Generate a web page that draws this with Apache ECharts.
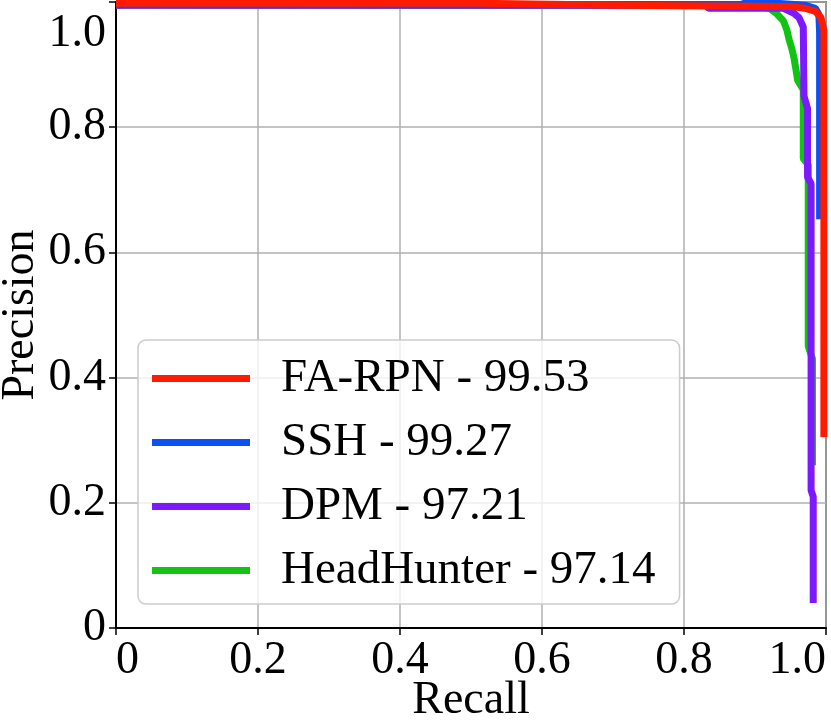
<!DOCTYPE html>
<html>
<head>
<meta charset="utf-8">
<script src="https://cdn.jsdelivr.net/npm/echarts@6/dist/echarts.min.js"></script>
<style>
  html, body { margin: 0; padding: 0; background: #fff; }
  #chart { width: 831px; height: 722px; }
</style>
</head>
<body>
<div id="chart"></div>
<script>
// PR curves (recall, precision)
const names = ['FA-RPN - 99.53', 'SSH - 99.27', 'DPM - 97.21', 'HeadHunter - 97.14']
const colors = ['#ff1a00', '#0a50f5', '#7d19ff', '#12c412']

const faRecall = [0, 0.508, 0.508, 0.715, 0.715, 0.95, 0.97, 0.985, 0.993, 0.997, 0.997]
const faPrecision = [0.998, 0.998, 0.995, 0.995, 0.9935, 0.993, 0.99, 0.985, 0.975, 0.955, 0.305]

const sshRecall = [0, 0.88, 0.885, 0.93, 0.97, 0.985, 0.99, 0.991, 0.991]
const sshPrecision = [0.996, 0.996, 0.998, 0.998, 0.995, 0.99, 0.98, 0.95, 0.653]

const dpmRecall = [0, 0.83, 0.835, 0.89, 0.94, 0.955, 0.962, 0.968, 0.969, 0.974, 0.974, 0.979, 0.979, 0.982, 0.982]
const dpmPrecision = [0.995, 0.995, 0.99, 0.99, 0.99, 0.982, 0.975, 0.96, 0.85, 0.83, 0.72, 0.71, 0.22, 0.21, 0.04]

const hhRecall = [0, 0.9, 0.92, 0.93, 0.94, 0.945, 0.948, 0.952, 0.955, 0.958, 0.96, 0.968, 0.968, 0.975, 0.975, 0.981, 0.981]
const hhPrecision = [0.995, 0.994, 0.99, 0.982, 0.97, 0.955, 0.94, 0.925, 0.91, 0.89, 0.875, 0.86, 0.75, 0.74, 0.45, 0.43, 0.26]

const curves = [
  [faRecall, faPrecision],
  [sshRecall, sshPrecision],
  [dpmRecall, dpmPrecision],
  [hhRecall, hhPrecision]
]

const font = '"Liberation Serif", "DejaVu Serif", serif'
const tickLabel = v => (v === 0 ? '0' : v.toFixed(1))

const chart = echarts.init(document.getElementById('chart'))

chart.setOption({
  animation: false,
  grid: {
    left: 116,
    right: 5,
    top: 2,
    bottom: 94,
    containLabel: false,
    outerBoundsMode: 'none',
    show: true,
    borderColor: '#111',
    borderWidth: 1.5
  },
  legend: {
    data: names,
    orient: 'vertical',
    left: 138,
    top: 340,
    icon: 'rect',
    itemWidth: 98,
    itemHeight: 7,
    itemGap: 17,
    padding: [15, 24, 10, 14],
    backgroundColor: 'rgba(255,255,255,0.8)',
    borderColor: '#cccccc',
    borderWidth: 1.5,
    borderRadius: 8,
    textStyle: {
      fontFamily: font,
      fontSize: 47,
      color: '#000',
      padding: [0, 0, 0, 26]
    }
  },
  xAxis: {
    type: 'value',
    min: 0,
    max: 1,
    interval: 0.2,
    name: 'Recall',
    nameLocation: 'middle',
    nameGap: 50,
    nameMoveOverlap: false,
    nameTextStyle: { fontFamily: font, fontSize: 46, color: '#000' },
    axisLine: { lineStyle: { color: '#000', width: 2 } },
    axisTick: { show: true, length: 7, lineStyle: { color: '#000', width: 1.5 } },
    axisLabel: {
      fontFamily: font,
      fontSize: 46,
      color: '#000',
      margin: 10,
      formatter: tickLabel,
      alignMinLabel: 'left',
      alignMaxLabel: 'right'
    },
    splitLine: { show: true, lineStyle: { color: '#b0b0b0', width: 1.5 } }
  },
  yAxis: {
    type: 'value',
    min: 0,
    max: 1,
    interval: 0.2,
    name: 'Precision',
    nameLocation: 'middle',
    nameGap: 72,
    nameMoveOverlap: false,
    nameTextStyle: { fontFamily: font, fontSize: 46, color: '#000' },
    axisLine: { lineStyle: { color: '#000', width: 2 } },
    axisTick: { show: true, length: 7, lineStyle: { color: '#000', width: 1.5 } },
    axisLabel: {
      fontFamily: font,
      fontSize: 46,
      color: '#000',
      margin: 10,
      formatter: v => (v === 1 ? '{t|1.0}' : tickLabel(v)),
      rich: {
        t: { fontFamily: font, fontSize: 46, color: '#000', padding: [63, 0, 0, 0] }
      }
    },
    splitLine: { show: true, lineStyle: { color: '#b0b0b0', width: 1.5 } }
  },
  series: curves.map((c, i) => ({
    name: names[i],
    type: 'line',
    data: c[0].map((r, j) => [r, c[1][j]]),
    showSymbol: false,
    z: 10 - i,
    lineStyle: { color: colors[i], width: 7 },
    itemStyle: { color: colors[i] }
  }))
})
</script>
</body>
</html>
